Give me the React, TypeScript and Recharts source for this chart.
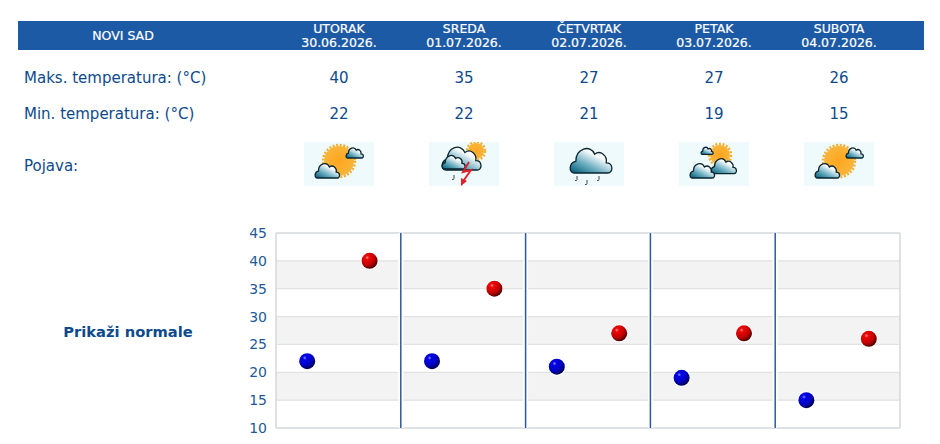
import { ComposedChart, Scatter, XAxis, YAxis, ReferenceArea, ReferenceLine } from 'recharts';

const cityName = 'NOVI SAD';
const dayNames = ['UTORAK', 'SREDA', 'ČETVRTAK', 'PETAK', 'SUBOTA'];
const dayDates = ['30.06.2026.', '01.07.2026.', '02.07.2026.', '03.07.2026.', '04.07.2026.'];
const maxTemps = [40, 35, 27, 27, 26];
const minTemps = [22, 22, 21, 19, 15];
const weatherIcons = ['sunCloud', 'storm', 'rain', 'cloudSun', 'sunCloud'];
const yTicks = [10, 15, 20, 25, 30, 35, 40, 45];
const shadedBands = [[15, 20], [25, 30], [35, 40]];
const dayDividers = [1, 2, 3, 4];

const blue = '#0d4a8c';
const columnCenters = [339, 464, 589, 714, 839];

const minPoints = minTemps.map((y, i) => ({ x: i + 0.25, y }));
const maxPoints = maxTemps.map((y, i) => ({ x: i + 0.75, y }));

function Ball({ cx, cy, gradient }: any) {
  return (
    <g>
      <circle cx={cx} cy={cy} r={9} fill="#fff" />
      <circle cx={cx} cy={cy} r={8} fill={`url(#${gradient})`} />
    </g>
  );
}

function Cloud({ x, y, s }: { x: number; y: number; s: number }) {
  return (
    <path
      transform={`translate(${x} ${y}) scale(${s})`}
      d="M3 20 C-1 20 -1 13 4 12 C4 3 14 0 17 7 C21 4 26 8 25 13 C30 13 30 20 26 20 Z"
      fill="url(#cloudFill)"
      stroke="#0a2430"
      strokeWidth={1.3 / s}
    />
  );
}

function Sun({ cx, cy, r }: { cx: number; cy: number; r: number }) {
  return (
    <g>
      <circle cx={cx} cy={cy} r={r + 1} fill="none" stroke="#f0b030" strokeWidth={2.5} strokeDasharray="2 1.6" />
      <circle cx={cx} cy={cy} r={r} fill="url(#sunFill)" />
    </g>
  );
}

function Drops({ points }: { points: number[][] }) {
  return (
    <g>
      {points.map(([x, y]) => (
        <path key={`${x}-${y}`} d={`M${x} ${y} v3.5 q0 1.5 -2 1`} fill="none" stroke="#444" strokeWidth={1} />
      ))}
    </g>
  );
}

function WeatherIcon({ kind }: { kind: string }) {
  return (
    <svg width={70} height={44} style={{ display: 'block' }}>
      <defs>
        <linearGradient id="cloudFill" x1="0.05" y1="0.95" x2="0.75" y2="0.15">
          <stop offset="0" stopColor="#08647f" />
          <stop offset="0.42" stopColor="#6fb0c2" />
          <stop offset="0.82" stopColor="#f6fafb" />
          <stop offset="1" stopColor="#ffffff" />
        </linearGradient>
        <radialGradient id="sunFill">
          <stop offset="0" stopColor="#ffa51e" />
          <stop offset="1" stopColor="#f9b53a" />
        </radialGradient>
      </defs>
      <rect width={70} height={44} fill="#effafd" />
      {kind === 'sunCloud' && (
        <g>
          <Sun cx={35} cy={19} r={15} />
          <Cloud x={42} y={4} s={0.6} />
          <Cloud x={11} y={19} s={0.85} />
        </g>
      )}
      {kind === 'storm' && (
        <g>
          <Sun cx={47} cy={9} r={8} />
          <Cloud x={13} y={1} s={1.35} />
          <Cloud x={13} y={11} s={0.8} />
          <path d="M40 20 L34 30 L42 28 L35 38" fill="none" stroke="#e0202a" strokeWidth={1.9} />
          <path d="M32 44 L32 36 L38 39 Z" fill="#e0202a" />
          <Drops points={[[25, 33]]} />
        </g>
      )}
      {kind === 'rain' && (
        <g>
          <Cloud x={16} y={2} s={1.45} />
          <Drops points={[[23, 34], [33, 38], [45, 34]]} />
        </g>
      )}
      {kind === 'cloudSun' && (
        <g>
          <Sun cx={41} cy={13} r={10} />
          <Cloud x={22} y={4} s={0.42} />
          <Cloud x={32} y={14} s={0.88} />
          <Cloud x={11} y={19} s={0.85} />
        </g>
      )}
    </svg>
  );
}

const cell = (left: number, top: number, text: string, extra: any = {}) => (
  <div key={`${left}-${top}-${text}`} style={{ position: 'absolute', left, top, whiteSpace: 'nowrap', ...extra }}>
    {text}
  </div>
);

const centered = { transform: 'translateX(-50%)' };
const body = { fontFamily: '"DejaVu Sans", sans-serif', fontSize: 15, color: blue, lineHeight: '18px' };
const head = { fontFamily: '"DejaVu Sans", sans-serif', fontSize: 12.5, color: '#fff', lineHeight: '14px', WebkitTextStroke: '0.2px #fff' };

export default function App() {
  return (
    <div style={{ position: 'absolute', left: 0, top: 0, width: 940, height: 444, overflow: 'hidden', background: '#fff' }}>
      <div style={{ position: 'absolute', left: 18, top: 21, width: 906, height: 29, background: '#1d5aa6' }} />
      {cell(123, 29, cityName, { ...head, ...centered })}
      {columnCenters.map((x, i) => cell(x, 22, dayNames[i], { ...head, ...centered }))}
      {columnCenters.map((x, i) => cell(x, 36, dayDates[i], { ...head, ...centered }))}

      {cell(24, 69, 'Maks. temperatura: (°C)', body)}
      {cell(24, 105, 'Min. temperatura: (°C)', body)}
      {cell(24, 157, 'Pojava:', body)}
      {columnCenters.map((x, i) => cell(x, 69, String(maxTemps[i]), { ...body, ...centered }))}
      {columnCenters.map((x, i) => cell(x, 105, String(minTemps[i]), { ...body, ...centered }))}
      {columnCenters.map((x, i) => (
        <div key={x} style={{ position: 'absolute', left: x - 35, top: 142 }}>
          <WeatherIcon kind={weatherIcons[i]} />
        </div>
      ))}

      {cell(128, 323, 'Prikaži normale', {
        ...centered,
        fontFamily: '"DejaVu Sans", sans-serif',
        fontSize: 14.7,
        fontWeight: 700,
        color: blue,
        lineHeight: '18px',
      })}

      <div style={{ position: 'absolute', left: 230, top: 223 }}>
        <ComposedChart width={690} height={221} margin={{ top: 10, right: 20, bottom: 16, left: 0 }}>
          <defs>
            <radialGradient id="redBall" cx="35%" cy="30%" r="75%">
              <stop offset="0" stopColor="#ff9090" />
              <stop offset="0.16" stopColor="#ee0808" />
              <stop offset="0.62" stopColor="#c00000" />
              <stop offset="1" stopColor="#3c0000" />
            </radialGradient>
            <radialGradient id="blueBall" cx="35%" cy="30%" r="75%">
              <stop offset="0" stopColor="#9090ff" />
              <stop offset="0.16" stopColor="#0404e8" />
              <stop offset="0.62" stopColor="#0000c0" />
              <stop offset="1" stopColor="#00003c" />
            </radialGradient>
          </defs>
          {shadedBands.map(([y1, y2]) => (
            <ReferenceArea key={y1} y1={y1} y2={y2} fill="#f3f3f3" fillOpacity={1} stroke="none" />
          ))}
          <XAxis type="number" dataKey="x" domain={[0, 5]} hide />
          <YAxis
            type="number"
            dataKey="y"
            domain={[10, 45]}
            ticks={yTicks}
            width={46}
            axisLine={false}
            tickLine={false}
            interval={0}
            tickSize={0}
            tickMargin={9}
            tick={{ fill: '#1e5a96', fontSize: 14, fontFamily: '"DejaVu Sans", sans-serif' }}
          />
          {yTicks.slice(1, -1).map((y) => (
            <ReferenceLine key={`grid-${y}`} y={y} stroke="#e2e2e2" strokeWidth={1.2} />
          ))}
          <ReferenceLine x={0} stroke="#d4d8dc" strokeWidth={1.5} />
          <ReferenceLine x={5} stroke="#d4d8dc" strokeWidth={1.5} />
          <ReferenceLine y={45} stroke="#d4d8dc" strokeWidth={1.5} />
          <ReferenceLine y={10} stroke="#d4d8dc" strokeWidth={1.5} />
          {dayDividers.map((x) => (
            <ReferenceLine key={`halo-${x}`} x={x} stroke="#fff" strokeWidth={5} />
          ))}
          {dayDividers.map((x) => (
            <ReferenceLine key={x} x={x} stroke="#2a5b9e" strokeWidth={1.5} />
          ))}
          <Scatter data={minPoints} shape={(p: any) => <Ball {...p} gradient="blueBall" />} isAnimationActive={false} />
          <Scatter data={maxPoints} shape={(p: any) => <Ball {...p} gradient="redBall" />} isAnimationActive={false} />
        </ComposedChart>
      </div>
    </div>
  );
}
